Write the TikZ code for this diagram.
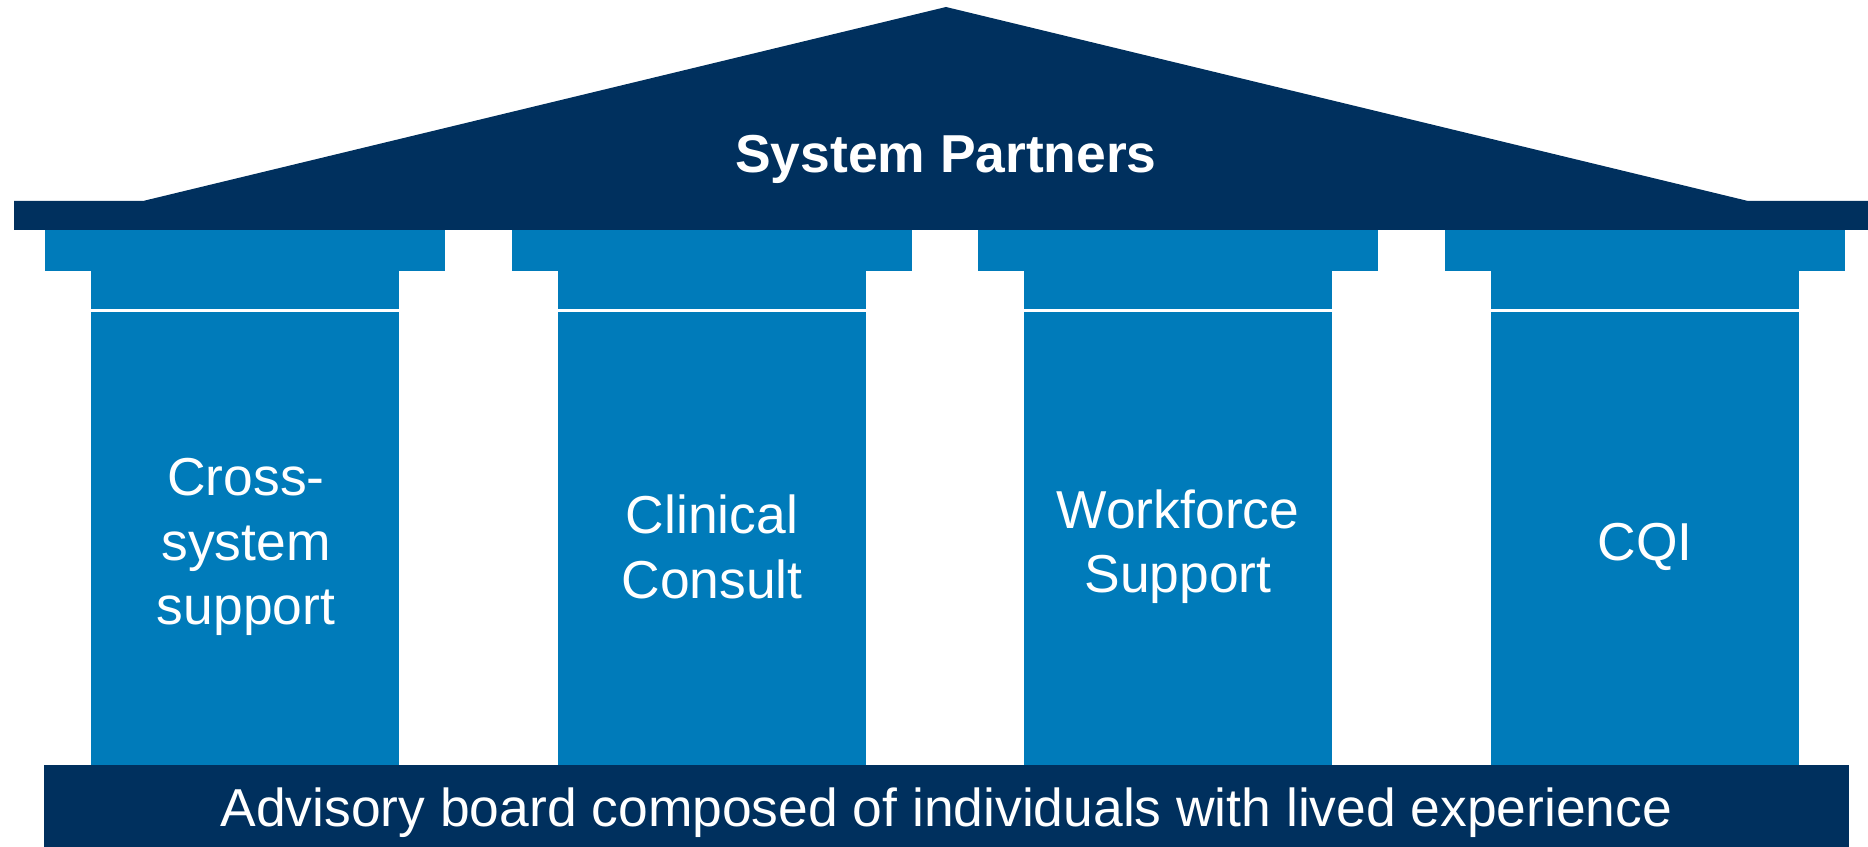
\documentclass[tikz,border=0pt]{standalone}
\usepackage{fontspec}
\setmainfont{Liberation Sans}
\definecolor{navy}{RGB}{0,48,94}
\definecolor{pillarblue}{RGB}{0,123,186}

\begin{document}
\begin{tikzpicture}[x=0.02cm,y=-0.02cm,
        capital/.style={fill=pillarblue,inner sep=0pt,minimum width=8cm,minimum height=0.84cm},
        necking/.style={fill=pillarblue,inner sep=0pt,minimum width=6.16cm,minimum height=0.78cm},
        pillar/.style={fill=pillarblue,inner sep=0pt,minimum width=6.16cm,minimum height=9.06cm},
        caption/.style={text=white,align=center,font=\fontsize{30.4}{36.6}\selectfont}]
        \useasboundingbox (0,0) rectangle (1868,847);
        % roof
        \fill[navy] (14,230) -- (14,201) -- (143,201) -- (946,7) -- (1748,201)
            -- (1868,201) -- (1868,230) -- cycle;
        \node[caption,font=\fontsize{30.4}{36}\selectfont\bfseries] (roof) at (946,159) {System Partners};
        % capitals
        \node[capital] (k1) at (245,250.5) {};
        \node[capital] (k2) at (712,250.5) {};
        \node[capital] (k3) at (1178,250.5) {};
        \node[capital] (k4) at (1645,250.5) {};
        \node[necking] (n1) at (245,290) {};
        \node[necking] (n2) at (712,290) {};
        \node[necking] (n3) at (1178,290) {};
        \node[necking] (n4) at (1645,290) {};
        % pillars
        \node[pillar] (p1) at (245,538.5) {};
        \node[pillar] (p2) at (712,538.5) {};
        \node[pillar] (p3) at (1178,538.5) {};
        \node[pillar] (p4) at (1645,538.5) {};
        \node[caption] (t1) at (246,547) {Cross-\\system\\support};
        \node[caption] (t2) at (712,547) {Clinical\\Consult};
        \node[caption] (t3) at (1178,547) {Workforce\\Support};
        \node[caption] (t4) at (1645,547) {CQI};
        % base
        \node[fill=navy,inner sep=0pt,minimum width=36.1cm,minimum height=1.64cm] (base) at (946.5,806) {};
        \node[caption] (board) at (946.5,813)
            {Advisory board composed of individuals with lived experience};
\end{tikzpicture}
\end{document}
